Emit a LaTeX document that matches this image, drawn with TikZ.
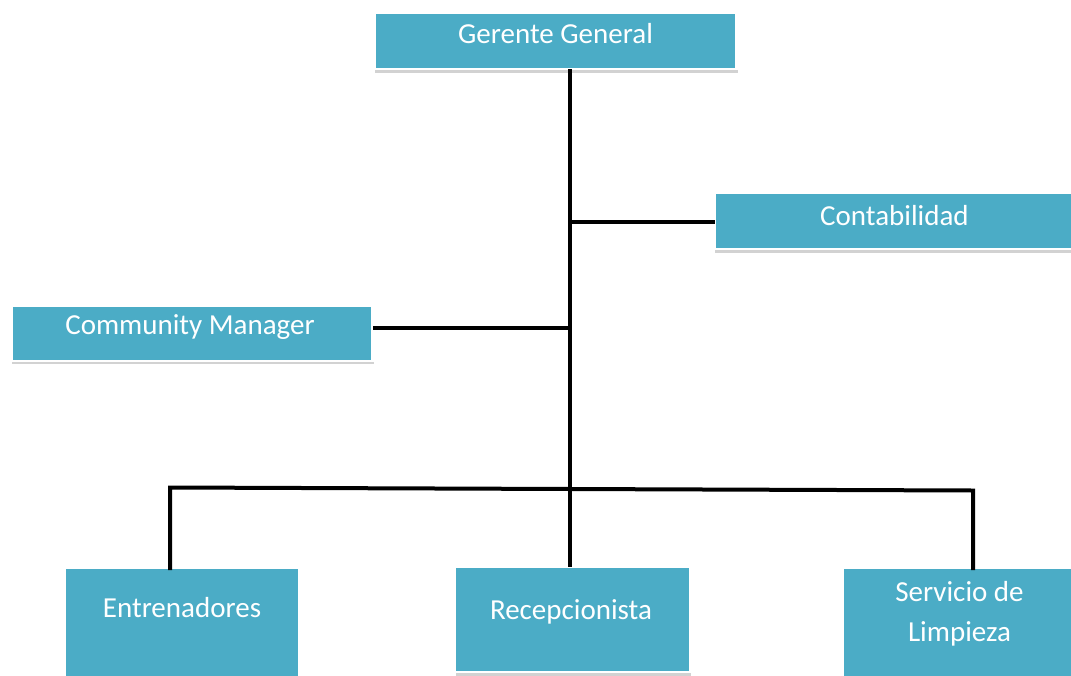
\documentclass[tikz,border=0pt]{standalone}
\usepackage{fontspec}
\setmainfont{Carlito}
\usetikzlibrary{shadows}
\definecolor{boxblue}{RGB}{75,172,198}
\tikzset{
  orgbox/.style={rectangle, fill=boxblue, draw=white, line width=2.5pt, inner sep=0pt, outer sep=0pt,
    drop shadow={shadow xshift=1pt, shadow yshift=-3.5pt, shadow scale=1.004, opacity=0.25, fill=black!70}},
  lbl/.style={text=white, font=\fontsize{29}{40}\selectfont, align=center, inner sep=0pt},
  conn/.style={line width=4pt, black, line cap=rect}
}
\begin{document}
\begin{tikzpicture}[x=1pt, y=-1pt]
\useasboundingbox (0,0) rectangle (1071,675);
% boxes
\node[orgbox, minimum width=362pt, minimum height=56pt] (gg) at (555.5,41) {};
\node[orgbox, minimum width=362pt, minimum height=56pt] (cont) at (896,221) {};
\node[orgbox, minimum width=361pt, minimum height=55.5pt] (cm) at (192,333) {};
\node[orgbox, minimum width=234pt, minimum height=112pt] (ent) at (182,624) {};
\node[orgbox, minimum width=235pt, minimum height=105pt] (rec) at (572.5,619.5) {};
\node[orgbox, minimum width=236pt, minimum height=112pt] (serv) at (961,624) {};
% labels
\node[lbl, anchor=base] (ggt) at (555.5,43) {Gerente General};
\node[lbl, anchor=base] (contt) at (894.5,225) {Contabilidad};
\node[lbl, anchor=base] (cmt) at (190,334) {Community Manager};
\node[lbl, anchor=base] (entt) at (182,617.5) {Entrenadores};
\node[lbl, anchor=base] (rect) at (571,619) {Recepcionista};
\node[lbl] (servt) at (959.5,613.5) {Servicio de\\Limpieza};
% junctions
\coordinate (jc) at (570,221.5);
\coordinate (jm) at (570,328);
\coordinate (jb) at (570,489);
\coordinate (jl) at (170,487.5);
\coordinate (jr) at (973,490.5);
% connectors
\draw[conn, line cap=butt] (gg.south -| jc) -- (rec.north -| jc);
\draw[conn, line cap=butt] (jc) -- (jc -| cont.west);
\draw[conn, line cap=butt] (jm) -- (jm -| cm.east);
\draw[conn, line join=miter] (ent.north -| jl) -- (jl) -- (jb) -- (jr) -- (serv.north -| jr);
\end{tikzpicture}
\end{document}
